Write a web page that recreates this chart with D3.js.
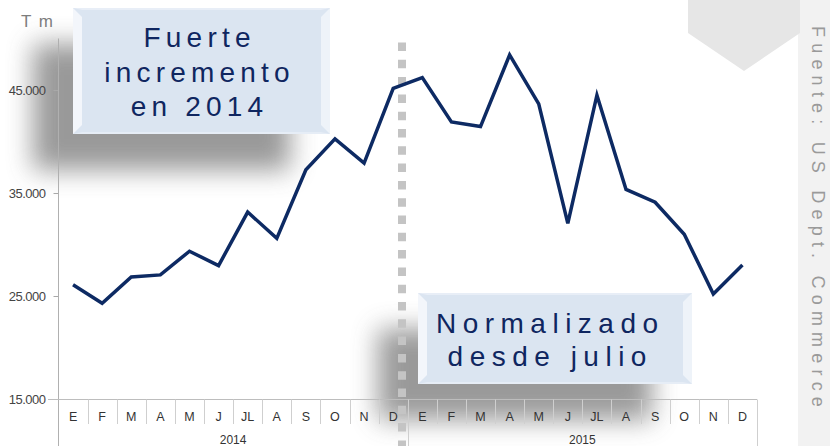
<!DOCTYPE html>
<html>
<head>
<meta charset="utf-8">
<script src="https://cdn.jsdelivr.net/npm/d3@7"></script>
<style>
  body { margin: 0; background: #fff; }
  svg { display: block; font-family: "Liberation Sans", Arial, sans-serif; }
</style>
</head>
<body>
<div id="chart"></div>
<script>
// data
var months = ["E", "F", "M", "A", "M", "J", "JL", "A", "S", "O", "N", "D"];
var years = ["2014", "2015"];
var values2014 = [26100, 24300, 26850, 27050, 29350, 27950, 33150, 30600, 37250, 40250, 37900, 45150];
var values2015 = [46200, 41900, 41450, 48400, 43650, 32050, 44500, 35350, 34100, 31000, 25200, 28000];
var yTicks = [15000, 25000, 35000, 45000];
var unitLabel = "T m";
var source = "Fuente: US Dept. Commerce";
var note1 = ["Fuerte", "incremento", "en 2014"];
var note2 = ["Normalizado", "desde julio"];

var width = 830, height = 446;
var navy = "#0d2a63";

var data = [];
years.forEach(function(y, yi) {
  var vals = yi == 0 ? values2014 : values2015;
  months.forEach(function(m, i) {
    data.push({ key: y + "-" + i, month: m, year: y, value: vals[i] });
  });
});

var svg = d3.select("#chart").append("svg")
  .attr("width", width)
  .attr("height", height);

var defs = svg.append("defs");
defs.append("filter").attr("id", "blur")
  .attr("x", "-50%").attr("y", "-50%").attr("width", "200%").attr("height", "200%")
  .append("feGaussianBlur").attr("stdDeviation", 13);

var x = d3.scaleBand()
  .domain(data.map(function(d) { return d.key; }))
  .range([58.5, 757]);

var y = d3.scaleLinear()
  .domain([15000, 50000])
  .range([399, 38.5]);

// right side band + pointer shape
svg.append("rect").attr("x", 798).attr("y", 0).attr("width", 32).attr("height", height).attr("fill", "#f2f2f2");
svg.append("polygon")
  .attr("points", "688,0 800,0 800,33 744,71 688,33")
  .attr("fill", "#e6e6e6");

svg.append("text")
  .attr("transform", "translate(812,26) rotate(90)")
  .attr("fill", "#9a9a9a")
  .style("font-size", "18px")
  .style("letter-spacing", "6.2px")
  .text(source);

// note boxes (shadow first)
var boxes = [
  { x0: 73, y0: 8, x1: 330, y1: 134, cx: 197, ls: 5.2, lines: note1, base: [47, 81.5, 116] },
  { x0: 418, y0: 293, x1: 692, y1: 384, cx: 547, ls: 6.5, lines: note2, base: [333, 366] }
];

boxes.forEach(function(b) {
  svg.append("rect")
    .attr("x", b.x0 - 40).attr("y", b.y0 + 36)
    .attr("width", b.x1 - b.x0).attr("height", b.y1 - b.y0)
    .attr("fill", "#808080").attr("opacity", 0.8)
    .attr("filter", "url(#blur)");
});

// y axis
var fmt = d3.formatLocale({ decimal: ",", thousands: ".", grouping: [3], currency: ["", ""] }).format(",d");
var yAxis = svg.append("g")
  .attr("transform", "translate(58.5,0)")
  .call(d3.axisLeft(y).tickValues(yTicks).tickFormat(fmt).tickSize(5).tickPadding(8));
yAxis.select(".domain").remove();
yAxis.selectAll(".tick line").attr("stroke", "#a8a8a8");
yAxis.selectAll(".tick text")
  .attr("fill", "#444").style("font-size", "13px").style("letter-spacing", "-0.5px")
  .style("font-family", "'Liberation Sans', Arial, sans-serif");

svg.append("line")
  .attr("x1", 58.5).attr("x2", 58.5).attr("y1", 38.5).attr("y2", height)
  .attr("stroke", "#b0b0b0");

// x axis: baseline, month separators, labels
svg.append("line")
  .attr("x1", 48).attr("x2", 757).attr("y1", 399.5).attr("y2", 399.5)
  .attr("stroke", "#bdbdbd");

var bw = x.bandwidth();
svg.selectAll(".sep").data(data).enter().append("line")
  .attr("class", "sep")
  .attr("x1", function(d) { return Math.round(x(d.key) + bw) + 0.5; })
  .attr("x2", function(d) { return Math.round(x(d.key) + bw) + 0.5; })
  .attr("y1", 399.5)
  .attr("y2", function(d, i) { return (i == 11 || i == 23) ? height : 424; })
  .attr("stroke", "#cfcfcf");

svg.selectAll(".mlab").data(data).enter().append("text")
  .attr("x", function(d) { return x(d.key) + bw / 2; })
  .attr("y", 420.5)
  .attr("text-anchor", "middle")
  .attr("fill", "#333")
  .style("font-size", "12.5px")
  .text(function(d) { return d.month; });

svg.selectAll(".ylab").data(years).enter().append("text")
  .attr("x", function(d, i) { return (x(d + "-0") + x(d + "-11") + bw) / 2; })
  .attr("y", 443.5)
  .attr("text-anchor", "middle")
  .attr("fill", "#333")
  .style("font-size", "12px")
  .text(function(d) { return d; });

svg.append("text")
  .attr("x", 21).attr("y", 27)
  .attr("fill", "#7d7d7d")
  .style("font-size", "17px")
  .style("letter-spacing", "1.5px")
  .text(unitLabel);

// dashed divider between 2014 and 2015
svg.append("line")
  .attr("x1", 402).attr("x2", 402).attr("y1", 42.5).attr("y2", height)
  .attr("stroke", "#c4c4c4").attr("stroke-width", 8)
  .attr("stroke-dasharray", "8.5,8.8");

// data line
var line = d3.line()
  .x(function(d) { return x(d.key) + bw / 2; })
  .y(function(d) { return y(d.value); });

svg.append("path")
  .datum(data)
  .attr("d", line)
  .attr("fill", "none")
  .attr("stroke", navy)
  .attr("stroke-width", 3.5)
  .attr("stroke-linejoin", "miter");

// boxes with bevel
boxes.forEach(function(b) {
  var g = svg.append("g");
  var bv = 9;
  g.append("rect")
    .attr("x", b.x0).attr("y", b.y0)
    .attr("width", b.x1 - b.x0).attr("height", b.y1 - b.y0)
    .attr("fill", "#dbe5f1");
  g.append("polygon")
    .attr("points", [[b.x0, b.y0], [b.x0 + bv, b.y0 + bv], [b.x0 + bv, b.y1 - bv], [b.x0, b.y1]].join(" "))
    .attr("fill", "#f3f6fb");
  g.append("polygon")
    .attr("points", [[b.x1, b.y0], [b.x1 - bv, b.y0 + bv], [b.x1 - bv, b.y1 - bv], [b.x1, b.y1]].join(" "))
    .attr("fill", "#eef3f9");
  g.append("polygon")
    .attr("points", [[b.x0, b.y0], [b.x1, b.y0], [b.x1 - bv, b.y0 + 2], [b.x0 + bv, b.y0 + 2]].join(" "))
    .attr("fill", "#e8eef7");
  g.append("polygon")
    .attr("points", [[b.x0, b.y1], [b.x1, b.y1], [b.x1 - bv, b.y1 - 2], [b.x0 + bv, b.y1 - 2]].join(" "))
    .attr("fill", "#e6edf6");

  b.lines.forEach(function(t, i) {
    g.append("text")
      .attr("x", b.cx + b.ls / 2)
      .attr("y", b.base[i])
      .attr("text-anchor", "middle")
      .attr("fill", "#0f2660")
      .style("font-size", "28px")
      .style("letter-spacing", b.ls + "px")
      .text(t);
  });
});
</script>
</body>
</html>
